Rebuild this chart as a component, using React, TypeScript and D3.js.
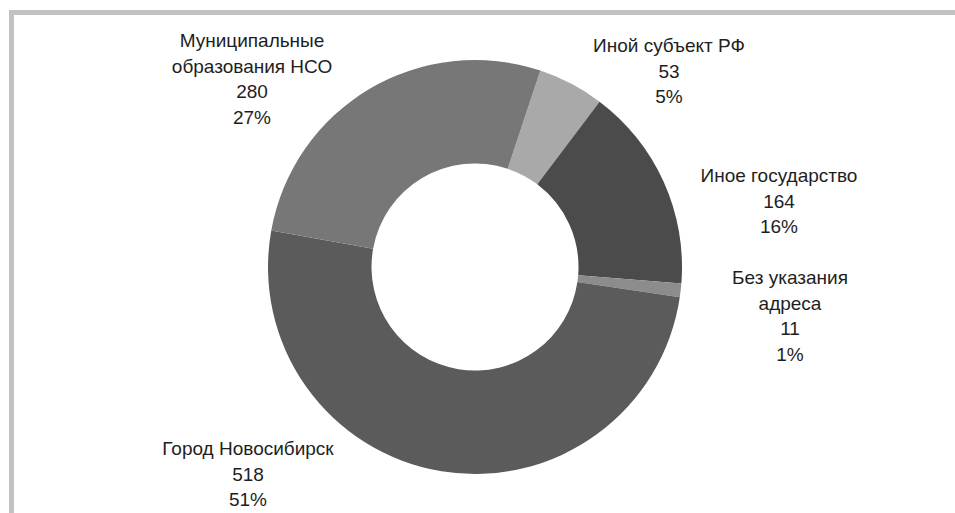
import React from "react";
import * as d3 from "d3";

const categories = [
  "Иной субъект РФ",
  "Иное государство",
  "Без указания адреса",
  "Город Новосибирск",
  "Муниципальные образования НСО",
];
const labelLines = [
  ["Иной субъект РФ"],
  ["Иное государство"],
  ["Без указания", "адреса"],
  ["Город Новосибирск"],
  ["Муниципальные", "образования НСО"],
];
const values = [53, 164, 11, 518, 280];
const percentLabels = ["5%", "16%", "1%", "51%", "27%"];

// layout / style
const W = 955;
const H = 513;
const CX = 475;
const CY = 267;
const R_OUT = 207;
const R_IN = 103.5;
const START_DEG = 18.4;
const colors = ["#a9a9a9", "#4b4b4b", "#8c8c8c", "#5b5b5b", "#777777"];
const labelAnchors: [number, number][] = [
  [669, 45],
  [779, 175],
  [790, 277],
  [248, 448],
  [252, 40],
];
const LINE_H = 25.5;
const FONT_SIZE = 19;

export default function App() {
  const data = categories.map((c, i) => ({ c, v: values[i], i }));
  const start = (START_DEG * Math.PI) / 180;
  const pie = d3
    .pie<any>()
    .sort(null)
    .value((d: any) => d.v)
    .startAngle(start)
    .endAngle(start + 2 * Math.PI);
  const arcs = pie(data);
  const arc = d3.arc<any>().innerRadius(R_IN).outerRadius(R_OUT);

  return (
    <svg
      width={W}
      height={H}
      style={{ position: "absolute", left: 0, top: 0, background: "#fff" }}
    >
      <rect x={0} y={0} width={W} height={H} fill="#fff" />
      <rect x={9} y={10} width={W - 9} height={5} fill="#c2c2c2" />
      <rect x={9} y={10} width={5} height={H - 10} fill="#c2c2c2" />
      <g transform={`translate(${CX},${CY})`}>
        {arcs.map((a, i) => (
          <path key={i} d={arc(a) as string} fill={colors[i]} />
        ))}
      </g>
      <g
        fontFamily="'Liberation Sans', Arial, sans-serif"
        fontSize={FONT_SIZE}
        fill="#1e1e1e"
        textAnchor="middle"
      >
        {data.map((d, i) => {
          const lines = [...labelLines[i], String(values[i]), percentLabels[i]];
          const [x, y] = labelAnchors[i];
          return (
            <text key={i} x={x} y={y} dominantBaseline="central">
              {lines.map((l, j) => (
                <tspan key={j} x={x} y={y + j * LINE_H}>
                  {l}
                </tspan>
              ))}
            </text>
          );
        })}
      </g>
    </svg>
  );
}
